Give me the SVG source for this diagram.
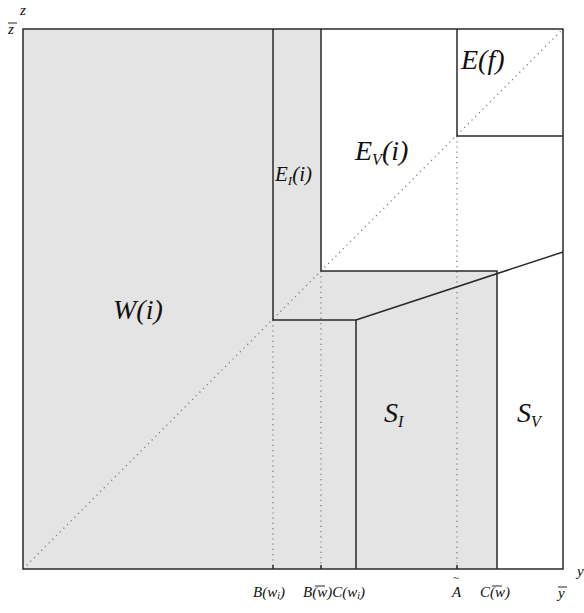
<svg xmlns="http://www.w3.org/2000/svg" width="584" height="613" viewBox="0 0 584 613">
<style>
.ln{stroke:#2a2a2a;stroke-width:1.5;fill:none}
.dot{stroke:#777;stroke-width:1.2;stroke-dasharray:1.2 4;fill:none}
text{font-family:"Liberation Serif","DejaVu Serif","Times New Roman",serif;font-style:italic;fill:#111}
.big{font-size:28px}
.mid{font-size:21px}
.sm{font-size:15px}
.sub{font-size:16px}
.msub{font-size:13px}
.ssub{font-size:10px}
</style>
<rect width="584" height="613" fill="#fff"/>
<g id="regions">
<polygon points="23,29 321,29 321,271 497,271 497,569 23,569" fill="#e4e4e4"/>
</g>
<g id="guides">
<line class="dot" x1="23" y1="569" x2="563" y2="29"/>
<line class="dot" x1="273" y1="320" x2="273" y2="569"/>
<line class="dot" x1="321" y1="271" x2="321" y2="569"/>
<line class="dot" x1="457" y1="136" x2="457" y2="569"/>
</g>
<g id="connectors">
<rect class="ln" x="23" y="29" width="540" height="540"/>
<polyline class="ln" points="273,29 273,320 356,320 356,569"/>
<polyline class="ln" points="321,29 321,271 497,271 497,569"/>
<line class="ln" x1="356" y1="320" x2="563" y2="252"/>
<polyline class="ln" points="457,29 457,136 563,136"/>
<line class="ln" x1="273" y1="565" x2="273" y2="569"/>
<line class="ln" x1="321" y1="565" x2="321" y2="569"/>
<line class="ln" x1="457" y1="565" x2="457" y2="569"/>
</g>
<g id="W">
<text class="big" x="113" y="319">W(i)</text>
</g>
<g id="EI">
<text class="mid" x="275" y="181">E<tspan class="msub" dy="4">I</tspan><tspan dy="-4">(i)</tspan></text>
</g>
<g id="EV">
<text class="big" x="355" y="160">E<tspan class="sub" dy="5">V</tspan><tspan dy="-5">(i)</tspan></text>
</g>
<g id="Ef">
<text class="big" x="461" y="69">E(f)</text>
</g>
<g id="SI">
<text class="big" x="384" y="422">S<tspan class="sub" dy="5">I</tspan></text>
</g>
<g id="SV">
<text class="big" x="517" y="422">S<tspan class="sub" dy="5">V</tspan></text>
</g>
<g id="axes">
<text class="sm" x="20" y="15">z</text>
<text class="sm" x="8" y="34">z</text>
<line x1="8" y1="23" x2="17" y2="23" stroke="#111" stroke-width="0.9"/>
<text class="sm" x="253" y="597">B(w<tspan class="ssub" dy="2">i</tspan><tspan dy="-2">)</tspan></text>
<text class="sm" x="303" y="597">B(w)C(w<tspan class="ssub" dy="2">i</tspan><tspan dy="-2">)</tspan></text>
<line x1="315" y1="586" x2="325" y2="586" stroke="#111" stroke-width="0.9"/>
<text style="font-size:11px" x="453" y="581">~</text>
<text class="sm" x="452" y="597">A</text>
<text class="sm" x="480" y="597">C(w)</text>
<line x1="492" y1="586" x2="502" y2="586" stroke="#111" stroke-width="0.9"/>
<text class="sm" x="558" y="598">y</text>
<line x1="558" y1="587" x2="567" y2="587" stroke="#111" stroke-width="0.9"/>
<text class="sm" x="577" y="576">y</text>
</g>
</svg>
